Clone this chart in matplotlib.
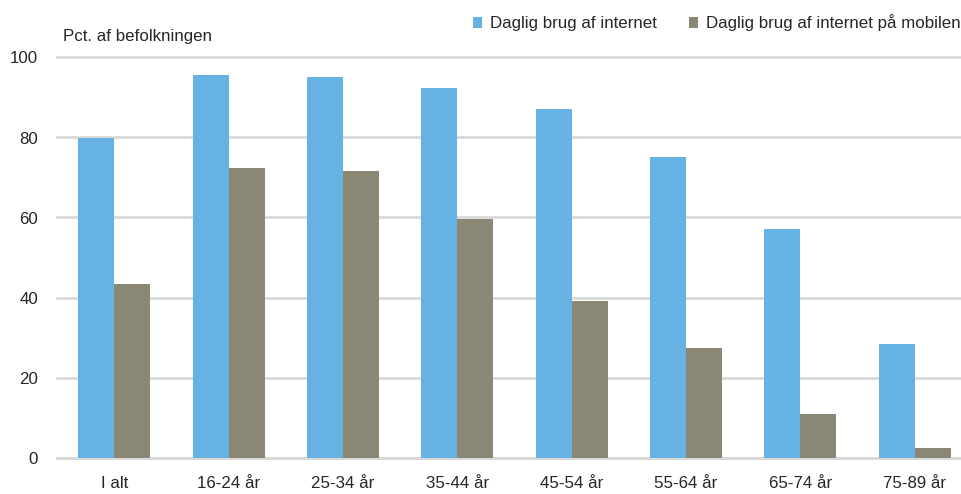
import numpy as np
import matplotlib.pyplot as plt

plt.rcParams['font.family'] = ['Liberation Sans', 'DejaVu Sans']

kategorier = ["I alt", "16-24 år", "25-34 år", "35-44 år", "45-54 år",
              "55-64 år", "65-74 år", "75-89 år"]
internet = [79.8, 95.5, 95.0, 92.4, 87.0, 75.1, 57.1, 28.4]
mobil = [43.4, 72.4, 71.6, 59.6, 39.1, 27.4, 11.0, 2.5]

blaa = "#65B2E3"
graa = "#8A8775"
tekst = "#262626"
fs = 12.2

W, H = 962, 494
fig = plt.figure(figsize=(W / 100, H / 100), dpi=100)
ax = fig.add_axes([57 / W, (H - 457.5) / H, (972 - 57) / W, 400 / H])

x = np.arange(len(kategorier))
b = 0.315
ax.bar(x - b / 2, internet, b, color=blaa, label="Daglig brug af internet", zorder=3)
ax.bar(x + b / 2, mobil, b, color=graa, label="Daglig brug af internet på mobilen", zorder=3)

ax.set_xlim(-0.5, len(kategorier) - 0.5)
ax.set_ylim(0, 100)
ax.set_yticks([0, 20, 40, 60, 80, 100])
ax.set_xticks(x)
ax.set_xticklabels(kategorier)
ax.tick_params(axis="both", length=0, labelsize=fs, colors=tekst)
ax.tick_params(axis="y", pad=13.5)
ax.tick_params(axis="x", pad=13)

ax.grid(axis="y", color="#D9D9D9", linewidth=2)
for gl in ax.get_ygridlines():
    gl.set_clip_on(False)
for s in ["top", "right", "left"]:
    ax.spines[s].set_visible(False)
ax.spines["bottom"].set_color("#D9D9D9")
ax.spines["bottom"].set_linewidth(2)

fig.text(63 / W, 1 - 37 / H, "Pct. af befolkningen", fontsize=fs, color=tekst,
         va="center", ha="left")

fig.legend(loc="center left", bbox_to_anchor=(473 / W, 1 - 23 / H), ncol=2,
           frameon=False, fontsize=fs, handlelength=0.55, handleheight=0.55,
           handletextpad=0.45, columnspacing=1.9, labelcolor=tekst,
           borderaxespad=0, borderpad=0)

fig.savefig("out.png", dpi=100)
